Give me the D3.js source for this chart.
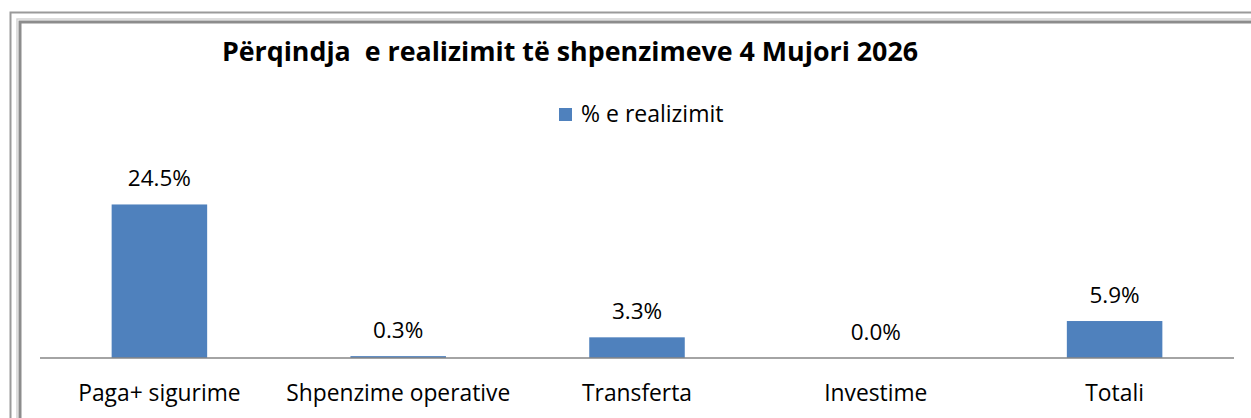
<!DOCTYPE html>
<html>
<head>
<meta charset="utf-8">
<script src="https://cdn.jsdelivr.net/npm/d3@7"></script>
<style>
  body { margin: 0; background: #fff; }
  text { font-family: 'Open Sans', sans-serif; }
</style>
</head>
<body>
<script>
const categories = ['Paga+ sigurime', 'Shpenzime operative', 'Transferta', 'Investime', 'Totali'];
const values = [24.5, 0.3, 3.3, 0.0, 5.9];
const labels = ['24.5%', '0.3%', '3.3%', '0.0%', '5.9%'];
const seriesName = '% e realizimit';
const title = 'Përqindja  e realizimit të shpenzimeve 4 Mujori 2026';

const width = 1251, height = 418;

const svg = d3.select('body').append('svg')
  .attr('width', width)
  .attr('height', height);

// double frame, runs off the right and bottom edge
svg.append('rect')
  .attr('x', 10.5).attr('y', 12.5)
  .attr('width', 1300).attr('height', 500)
  .attr('fill', 'none')
  .attr('stroke', '#9a9a9a')
  .attr('stroke-width', 2);
svg.append('rect')
  .attr('x', 20).attr('y', 22)
  .attr('width', 1300).attr('height', 500)
  .attr('fill', 'none')
  .attr('stroke', '#8c8c8c')
  .attr('stroke-width', 3);
svg.append('rect')
  .attr('x', 17).attr('y', 19)
  .attr('width', 1300).attr('height', 500)
  .attr('fill', 'none')
  .attr('stroke', '#d4d4d4')
  .attr('stroke-width', 1.5);

svg.append('text')
  .text(title)
  .attr('x', 570)
  .attr('y', 61)
  .attr('text-anchor', 'middle')
  .style('white-space', 'pre')
  .style('font-weight', 'bold')
  .style('font-size', '26.8px')
  .style('fill', '#000');

// legend
svg.append('rect')
  .attr('x', 559).attr('y', 108)
  .attr('width', 13).attr('height', 13)
  .attr('fill', '#4f81bd');
svg.append('text')
  .text(seriesName)
  .attr('x', 581)
  .attr('y', 122)
  .style('font-size', '23px')
  .style('fill', '#000');

const x = d3.scaleBand()
  .domain(categories)
  .range([40, 1234])
  .paddingInner(0.6)
  .paddingOuter(0.3);

const y = d3.scaleLinear()
  .domain([0, 30])
  .range([358, 170]);

svg.selectAll('rect.bar')
  .data(values)
  .enter()
  .append('rect')
  .attr('class', 'bar')
  .attr('x', (d, i) => x(categories[i]))
  .attr('y', d => y(d))
  .attr('width', x.bandwidth())
  .attr('height', d => y(0) - y(d))
  .attr('fill', '#4f81bd');

const axis = svg.append('g')
  .attr('transform', `translate(0,${y(0)})`)
  .call(d3.axisBottom(x).tickSize(0).tickPadding(26.5));
axis.select('.domain').attr('stroke', '#868686').attr('stroke-width', 1.5).attr('d', 'M40,0H1234');
axis.selectAll('text')
  .style('font-size', '22.8px')
  .style('font-family', "'Open Sans', sans-serif")
  .style('fill', '#000');

svg.selectAll('text.val')
  .data(values)
  .enter()
  .append('text')
  .attr('class', 'val')
  .text((d, i) => labels[i])
  .attr('x', (d, i) => x(categories[i]) + x.bandwidth() / 2)
  .attr('y', d => y(d) - 18.5)
  .attr('text-anchor', 'middle')
  .style('font-size', '22.5px')
  .style('fill', '#000');
</script>
</body>
</html>
